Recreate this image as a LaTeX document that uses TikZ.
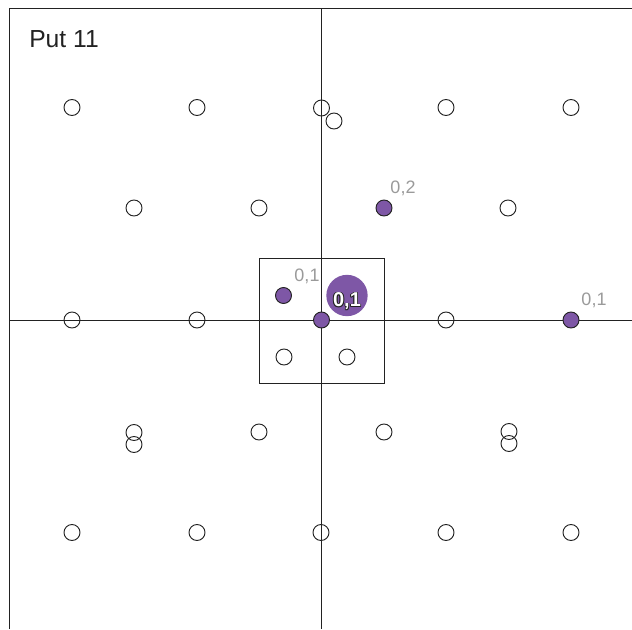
\documentclass[tikz,border=0pt]{standalone}
\usepackage{fontspec}
\setmainfont{Liberation Sans}
\usetikzlibrary{positioning,calc}
\definecolor{plum500}{HTML}{7E57A6}
\definecolor{grey500}{HTML}{9A9A9A}
\definecolor{ink900} {HTML}{222222}
\tikzset{
  axis/.style  ={draw=ink900, line width=0.75pt},
  spot/.style  ={circle, draw=ink900, line width=0.7pt, minimum size=12pt,
                 inner sep=0pt},
  hit/.style   ={spot, fill=plum500},
  bighit/.style={circle, fill=plum500, minimum size=31pt, inner sep=0pt},
  val/.style   ={font=\fontsize{13.5}{14}\selectfont, text=grey500,
                 inner sep=1pt},
  bigval/.style={font=\fontsize{15}{16}\selectfont\bfseries},
  ttl/.style   ={font=\fontsize{18.5}{20}\selectfont, text=ink900,
                 anchor=base west, inner sep=0pt}
}

\begin{document}
\begin{tikzpicture}[x=0.75pt,y=-0.75pt]
\useasboundingbox (0,0) rectangle (632,629);
% frame and axes, in pixel units of the original
\coordinate (tl) at (9,8);
\coordinate (tr) at (632,8);
\coordinate (bl) at (9,629);
\coordinate (top) at (321,8);
\coordinate (bot) at (321,629);
\coordinate (lft) at (9,320);
\coordinate (rgt) at (632,320);
\draw[axis] (bl) -- (tl) -- (tr);
\draw[axis] (top) -- (bot);
\draw[axis] (lft) -- (rgt);
\draw[axis] (259,258) rectangle (384,383);

\node[ttl] (title) at (29,47) {Put 11};

% open grid points
\foreach \x/\y [count=\i] in {72/107.5, 197/107.5, 321.5/108, 334/121,
    446/107.5, 571/107.5, 134/208, 259/208, 508/208,
    72/320, 197/320, 446/320,
    134/432.5, 134/444.5, 259/432, 384/432, 509/431.5, 509/443.5,
    72/532.5, 197/532.5, 321/532.5, 446/532.5, 571/532.5,
    284/357, 347/357}
  \node[spot] (p\i) at (\x,\y) {};

% filled points
\node[hit] (c) at (321.5,320) {};
\node[hit] (q1) at (283.5,295.5) {};
\node[hit] (q2) at (384,208) {};
\node[hit] (q3) at (571,320) {};
\node[bighit] (big) at (347,295.5) {};

\node[val] (l1) at (307,276) {0,1};
\node[val] (l2) at (403,188) {0,2};
\node[val] (l3) at (594,300) {0,1};
% white label with a dark rim
\foreach \dx/\dy in {-0.9/0,0.9/0,0/-0.9,0/0.9,-0.7/-0.7,0.7/0.7,-0.7/0.7,0.7/-0.7}
  \node[bigval, text=ink900] at ($(big)+(\dx,\dy+6)$) {0,1};
\node[bigval, text=white] (bigl) at ($(big)+(0,6)$) {0,1};
\end{tikzpicture}
\end{document}
